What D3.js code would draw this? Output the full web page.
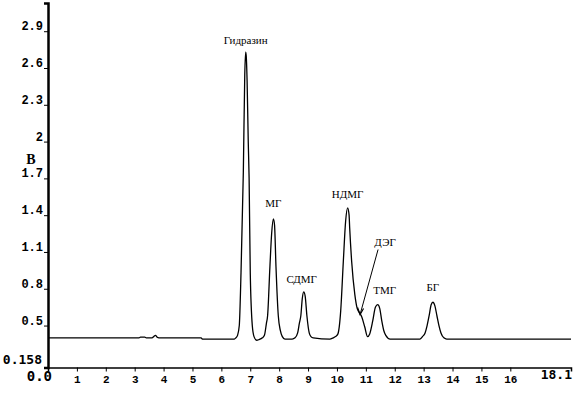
<!DOCTYPE html>
<html>
<head>
<meta charset="utf-8">
<script src="https://cdn.jsdelivr.net/npm/d3@7"></script>
<style>
  body { margin: 0; background: #fff; }
  svg { display: block; }
</style>
</head>
<body>
<svg id="chart" width="583" height="393"></svg>
<script>
// chromatogram (time in min, signal in V)
const times = [
  0, 3.15, 3.20, 3.35, 3.40, 3.60, 3.66, 3.72, 3.78, 3.84, 5.30, 5.34, 6.45,
  6.50, 6.56, 6.62, 6.68, 6.76, 6.81, 6.84, 6.86, 6.89, 6.93, 6.96, 7.00, 7.07, 7.13, 7.22, 7.30, 7.42,
  7.49, 7.56, 7.60, 7.68, 7.74, 7.80, 7.84, 7.89, 7.97, 8.04, 8.11, 8.20,
  8.45, 8.55, 8.64, 8.70, 8.75, 8.80, 8.85, 8.90, 8.96, 9.04, 9.10, 9.18,
  9.75, 9.87, 9.95, 10.03, 10.13, 10.22, 10.30, 10.37, 10.42, 10.44, 10.51, 10.62, 10.70, 10.76, 10.86, 10.96, 11.06,
  11.13, 11.24, 11.33, 11.41, 11.48, 11.55, 11.62, 11.69, 11.84,
  12.70, 12.87, 12.96, 13.05, 13.12, 13.19, 13.26, 13.32, 13.39, 13.46, 13.53, 13.60, 13.70, 13.80, 18.1
];
const signal = [
  0.40, 0.40, 0.405, 0.405, 0.40, 0.40, 0.41, 0.42, 0.405, 0.40, 0.40, 0.39, 0.39,
  0.40, 0.42, 0.50, 0.93, 1.75, 2.55, 2.73, 2.70, 2.50, 2.00, 1.70, 0.93, 0.50, 0.41, 0.38, 0.385, 0.40,
  0.42, 0.52, 0.58, 0.98, 1.25, 1.37, 1.32, 0.98, 0.58, 0.46, 0.41, 0.39,
  0.39, 0.40, 0.44, 0.52, 0.58, 0.72, 0.775, 0.74, 0.58, 0.44, 0.41, 0.40,
  0.39, 0.40, 0.41, 0.43, 0.62, 1.02, 1.35, 1.46, 1.40, 1.30, 1.02, 0.75, 0.64, 0.61, 0.57, 0.49, 0.41,
  0.43, 0.54, 0.65, 0.67, 0.64, 0.54, 0.46, 0.42, 0.39,
  0.39, 0.39, 0.41, 0.44, 0.50, 0.58, 0.67, 0.69, 0.66, 0.58, 0.50, 0.44, 0.40, 0.39, 0.39
];

// peak names with their apex
const peakNames = ['Гидразин', 'МГ', 'СДМГ', 'НДМГ', 'ТМГ', 'БГ'];
const peakTimes = [6.84, 7.80, 8.85, 10.37, 11.41, 13.32];
const peakHeights = [2.73, 1.37, 0.775, 1.46, 0.67, 0.69];
// shoulder marked with an arrow
const shoulderName = 'ДЭГ';
const shoulderTime = 10.80;
const shoulderHeight = 0.59;

const yTicks = [0.5, 0.8, 1.1, 1.4, 1.7, 2, 2.3, 2.6, 2.9];
const xTicks = [1, 2, 3, 4, 5, 6, 7, 8, 9, 10, 11, 12, 13, 14, 15, 16];
const yMin = 0.158, yMax = 3.13;
const xMin = 0, xMax = 18.1;
const yUnit = 'В';

const svg = d3.select('#chart');

const x = d3.scaleLinear().domain([xMin, xMax]).range([48, 571]);
const y = d3.scaleLinear().domain([yMin, yMax]).range([367.5, 3]);

const data = times.map((t, i) => ({t: t, v: signal[i]}));

// trace
const line = d3.line()
    .x(d => x(d.t))
    .y(d => y(d.v))
    .curve(d3.curveMonotoneX);

svg.append('path')
    .datum(data)
    .attr('d', line)
    .attr('fill', 'none')
    .attr('stroke', '#000')
    .attr('stroke-width', 1.3);

// axes
const xAxis = d3.axisBottom(x)
    .tickValues(xTicks)
    .tickSize(4)
    .tickPadding(4)
    .tickFormat(d3.format('d'));

const gx = svg.append('g')
    .attr('transform', `translate(0,${y(yMin)})`)
    .call(xAxis);
gx.select('.domain').attr('stroke-width', 1.5);
gx.selectAll('text')
    .attr('font-family', '"Liberation Mono", monospace')
    .attr('font-weight', 'bold')
    .attr('font-size', 11)
    .attr('fill', '#000');

const yAxis = d3.axisLeft(y)
    .tickValues(yTicks)
    .tickSize(4)
    .tickFormat(d3.format('~g'));

const gy = svg.append('g')
    .attr('transform', `translate(${x(xMin)},0)`)
    .call(yAxis);
gy.select('.domain').attr('stroke-width', 2.5);
gy.selectAll('text')
    .attr('font-family', '"Liberation Mono", monospace')
    .attr('font-weight', 'bold')
    .attr('font-size', 12)
    .attr('fill', '#000')
    .attr('x', -5)
    .attr('dy', -1.5);

// end labels
svg.append('text')
    .attr('x', 42).attr('y', y(yMin) - 4)
    .attr('text-anchor', 'end')
    .attr('font-family', '"DejaVu Sans Mono", monospace')
    .attr('font-weight', 'bold')
    .attr('font-size', 13)
    .text(String(yMin));

svg.append('text')
    .attr('x', x(xMin) + 4).attr('y', y(yMin) + 13)
    .attr('text-anchor', 'end')
    .attr('font-family', '"DejaVu Sans Mono", monospace')
    .attr('font-weight', 'bold')
    .attr('font-size', 14)
    .text(xMin.toFixed(1));

svg.append('text')
    .attr('x', x(xMax) + 1).attr('y', y(yMin) + 11)
    .attr('text-anchor', 'end')
    .attr('font-family', '"DejaVu Sans Mono", monospace')
    .attr('font-weight', 'bold')
    .attr('font-size', 13)
    .text(String(xMax));

svg.append('text')
    .attr('x', 31).attr('y', 164)
    .attr('text-anchor', 'middle')
    .attr('font-family', '"Liberation Serif", serif')
    .attr('font-weight', 'bold')
    .attr('font-size', 14)
    .text(yUnit);

// peak labels
const labelShift = [0, 0, -2, 0, 7, 0];
const labelLift = [8, 12, 9, 10, 11, 11];
svg.append('g')
    .selectAll('text')
    .data(peakNames)
    .join('text')
    .attr('x', (d, i) => x(peakTimes[i]) + labelShift[i])
    .attr('y', (d, i) => y(peakHeights[i]) - labelLift[i])
    .attr('text-anchor', 'middle')
    .attr('font-family', '"Liberation Serif", serif')
    .attr('font-size', 11)
    .attr('fill', '#000')
    .text(d => d);

// shoulder label and arrow
const tipX = x(shoulderTime), tipY = y(shoulderHeight);
svg.append('text')
    .attr('x', tipX + 25).attr('y', tipY - 69)
    .attr('text-anchor', 'middle')
    .attr('font-family', '"Liberation Serif", serif')
    .attr('font-size', 11)
    .text(shoulderName);

svg.append('line')
    .attr('x1', tipX + 18).attr('y1', tipY - 65)
    .attr('x2', tipX).attr('y2', tipY)
    .attr('stroke', '#000')
    .attr('stroke-width', 1);

svg.append('path')
    .attr('d', `M${tipX - 2.5},${tipY - 7} L${tipX},${tipY} L${tipX + 3.5},${tipY - 6}`)
    .attr('fill', 'none')
    .attr('stroke', '#000')
    .attr('stroke-width', 1.2);
</script>
</body>
</html>
